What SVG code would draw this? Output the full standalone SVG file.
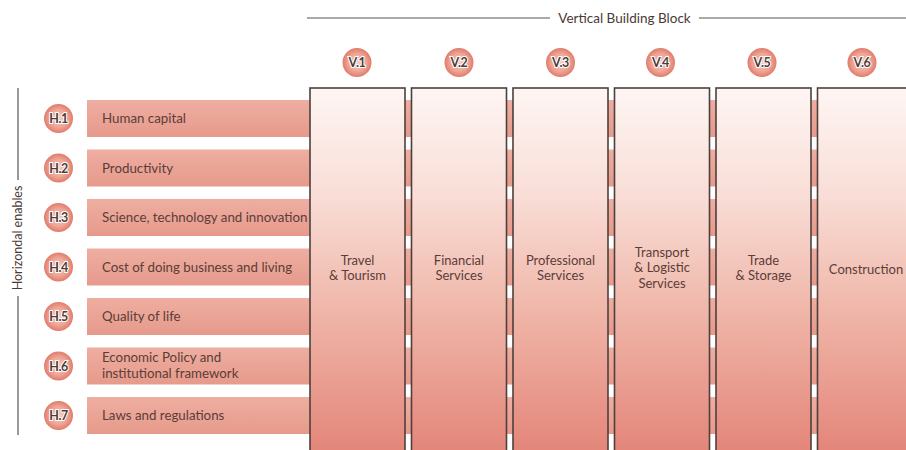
<svg xmlns="http://www.w3.org/2000/svg" width="906" height="450" viewBox="0 0 906 450">
<style>
  .lbl{font-family:Lato,"Open Sans","Liberation Sans",sans-serif;font-size:13.3px;fill:#5b3d37}
  .cl{font-family:Lato,"Open Sans","Liberation Sans",sans-serif;font-size:13px;fill:#5b3d37;text-anchor:middle}
  .hdr{font-family:Lato,"Open Sans","Liberation Sans",sans-serif;font-size:13.5px;fill:#4a3a36}
  .bar{fill:url(#barG)}
  .col{fill:url(#colG);stroke:#4d403c;stroke-width:1.6}
  .dot{fill:url(#dotG);stroke:#fff;stroke-width:2}
  .dt{font-family:Lato,"Open Sans","Liberation Sans",sans-serif;font-size:12.5px;font-weight:bold;fill:#4f3c38;stroke:#fff;stroke-width:2;paint-order:stroke;text-anchor:middle;letter-spacing:-0.4px}
  .ax{stroke:#555;stroke-width:1.2;fill:none}
</style>
<defs>
  <linearGradient id="barG" x1="0" y1="0" x2="0" y2="1">
    <stop offset="0" stop-color="#eeaea1"/>
    <stop offset="1" stop-color="#e69a8b"/>
  </linearGradient>
  <linearGradient id="colG" x1="0" y1="88" x2="0" y2="450" gradientUnits="userSpaceOnUse">
    <stop offset="0" stop-color="#fef6f4"/>
    <stop offset="0.3" stop-color="#f9ddd6"/>
    <stop offset="0.6" stop-color="#f0b8ab"/>
    <stop offset="1" stop-color="#e4867a"/>
  </linearGradient>
  <radialGradient id="dotG" cx="0.5" cy="0.5" r="0.5">
    <stop offset="0" stop-color="#f7d2c8"/>
    <stop offset="0.6" stop-color="#eea293"/>
    <stop offset="1" stop-color="#de7565"/>
  </radialGradient>
</defs>
<rect width="906" height="450" fill="#fff"/>

<g id="axes">
  <line class="ax" x1="307" y1="18" x2="550" y2="18"/>
  <line class="ax" x1="699" y1="18" x2="906" y2="18"/>
  <text class="hdr" x="624.5" y="22.5" text-anchor="middle">Vertical Building Block</text>
  <line class="ax" x1="18" y1="88" x2="18" y2="180"/>
  <line class="ax" x1="18" y1="296" x2="18" y2="435"/>
  <text class="hdr" style="font-size:12.5px" transform="translate(22,238) rotate(-90)" text-anchor="middle">Horizondal enables</text>
</g>

<g id="bars">
  <rect class="bar" x="87" y="100" width="819" height="37"/>
  <rect class="bar" x="87" y="149.5" width="819" height="37"/>
  <rect class="bar" x="87" y="199" width="819" height="37"/>
  <rect class="bar" x="87" y="248.5" width="819" height="37"/>
  <rect class="bar" x="87" y="298" width="819" height="37"/>
  <rect class="bar" x="87" y="347.5" width="819" height="37"/>
  <rect class="bar" x="87" y="397" width="819" height="37"/>
</g>

<g id="h1"><circle class="dot" cx="58.5" cy="118.5" r="15.5"/><text class="dt" x="58.5" y="123">H.1</text><text class="lbl" x="102" y="123">Human capital</text></g>
<g id="h2"><circle class="dot" cx="58.5" cy="168" r="15.5"/><text class="dt" x="58.5" y="172.5">H.2</text><text class="lbl" x="102" y="172.5">Productivity</text></g>
<g id="h3"><circle class="dot" cx="58.5" cy="217.5" r="15.5"/><text class="dt" x="58.5" y="222">H.3</text><text class="lbl" x="102" y="222">Science, technology and innovation</text></g>
<g id="h4"><circle class="dot" cx="58.5" cy="267" r="15.5"/><text class="dt" x="58.5" y="271.5">H.4</text><text class="lbl" x="102" y="271.5">Cost of doing business and living</text></g>
<g id="h5"><circle class="dot" cx="58.5" cy="316.5" r="15.5"/><text class="dt" x="58.5" y="321">H.5</text><text class="lbl" x="102" y="321">Quality of life</text></g>
<g id="h6"><circle class="dot" cx="58.5" cy="366" r="15.5"/><text class="dt" x="58.5" y="370.5">H.6</text><text class="lbl" x="102" y="362">Economic Policy and</text><text class="lbl" x="102" y="378">institutional framework</text></g>
<g id="h7"><circle class="dot" cx="58.5" cy="415.5" r="15.5"/><text class="dt" x="58.5" y="420">H.7</text><text class="lbl" x="102" y="420">Laws and regulations</text></g>

<g id="v1"><circle class="dot" cx="357" cy="62.5" r="15.5"/><text class="dt" x="357" y="67">V.1</text>
  <rect class="col" x="310" y="88" width="95" height="370"/>
  <text class="cl" x="357.5" y="265">Travel</text><text class="cl" x="357.5" y="280">&amp; Tourism</text></g>
<g id="v2"><circle class="dot" cx="459" cy="62.5" r="15.5"/><text class="dt" x="459" y="67">V.2</text>
  <rect class="col" x="411.5" y="88" width="95" height="370"/>
  <text class="cl" x="459" y="265">Financial</text><text class="cl" x="459" y="280">Services</text></g>
<g id="v3"><circle class="dot" cx="560.5" cy="62.5" r="15.5"/><text class="dt" x="560.5" y="67">V.3</text>
  <rect class="col" x="513" y="88" width="95" height="370"/>
  <text class="cl" x="560.5" y="265">Professional</text><text class="cl" x="560.5" y="280">Services</text></g>
<g id="v4"><circle class="dot" cx="660.5" cy="62.5" r="15.5"/><text class="dt" x="660.5" y="67">V.4</text>
  <rect class="col" x="614.5" y="88" width="95" height="370"/>
  <text class="cl" x="662" y="257">Transport</text><text class="cl" x="662" y="272">&amp; Logistic</text><text class="cl" x="662" y="288">Services</text></g>
<g id="v5"><circle class="dot" cx="762" cy="62.5" r="15.5"/><text class="dt" x="762" y="67">V.5</text>
  <rect class="col" x="716" y="88" width="95" height="370"/>
  <text class="cl" x="763.5" y="265">Trade</text><text class="cl" x="763.5" y="280">&amp; Storage</text></g>
<g id="v6"><circle class="dot" cx="862" cy="62.5" r="15.5"/><text class="dt" x="862" y="67">V.6</text>
  <rect class="col" x="817.5" y="88" width="110" height="370"/>
  <text class="cl" x="866" y="274">Construction</text></g>
</svg>
